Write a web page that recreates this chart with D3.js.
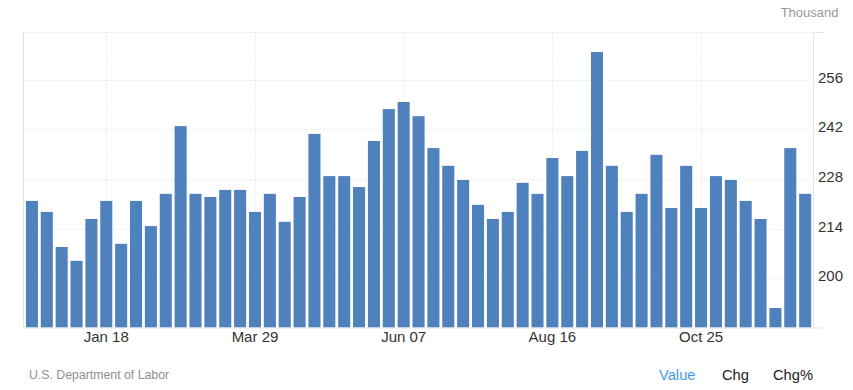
<!DOCTYPE html>
<html>
<head>
<meta charset="utf-8">
<script src="https://cdn.jsdelivr.net/npm/d3@7"></script>
<style>
  body { margin: 0; background: #fff; }
  text { font-family: Arial, "Liberation Sans", sans-serif; }
</style>
</head>
<body>
<div id="chart"></div>
<script>
// week ending dates, Dec 2024 - Dec 2025
var weeks = ["Dec 14","Dec 21","Dec 28","Jan 04","Jan 11","Jan 18","Jan 25","Feb 01","Feb 08","Feb 15",
    "Feb 22","Mar 01","Mar 08","Mar 15","Mar 22","Mar 29","Apr 05","Apr 12","Apr 19","Apr 26",
    "May 03","May 10","May 17","May 24","May 31","Jun 07","Jun 14","Jun 21","Jun 28","Jul 05",
    "Jul 12","Jul 19","Jul 26","Aug 02","Aug 09","Aug 16","Aug 23","Aug 30","Sep 06","Sep 13",
    "Sep 20","Sep 27","Oct 04","Oct 11","Oct 18","Oct 25","Nov 01","Nov 08","Nov 15","Nov 22",
    "Nov 29","Dec 06","Dec 13"];

// claims, thousand
var claims = [221.8,218.7,208.8,204.9,216.7,221.8,209.7,221.8,214.7,223.8,
    242.9,223.8,222.9,224.9,224.9,218.7,223.8,215.9,222.9,240.7,
    228.8,228.8,225.7,238.7,247.7,249.7,245.7,236.7,231.7,227.7,
    220.7,216.7,218.7,226.9,223.8,233.9,228.8,235.9,263.8,231.7,
    218.7,223.8,234.8,219.8,231.7,219.8,228.8,227.7,221.8,216.7,
    191.6,236.7,223.8];

var xTicks = ["Jan 18","Mar 29","Jun 07","Aug 16","Oct 25"];
var yTicks = [200, 214, 228, 242, 256];
var footerTabs = ["Value", "Chg", "Chg%"];

var width = 853, height = 390;
// plot frame (don't use "top", it's window.top)
var plotL = 23.5, plotR = 813.5, plotT = 32.5, plotB = 327.5;

var svg = d3.select("#chart").append("svg")
    .attr("width", width)
    .attr("height", height);

var x = d3.scaleBand()
    .domain(weeks)
    .range([24.5, 812.6])
    .paddingInner(0.19)
    .paddingOuter(0.095);

var y = d3.scaleLinear()
    .domain([186.1, 269.3])
    .range([plotB, plotT]);

// horizontal grid
svg.selectAll(".hgrid")
    .data(yTicks)
    .enter()
    .append("line")
    .attr("class", "hgrid")
    .attr("x1", plotL).attr("x2", plotR)
    .attr("y1", function(d){ return Math.round(y(d)) + 0.5; })
    .attr("y2", function(d){ return Math.round(y(d)) + 0.5; })
    .attr("stroke", "#dedede")
    .attr("stroke-dasharray", "1,2");

// top grid line
svg.append("line")
    .attr("x1", plotL).attr("x2", plotR)
    .attr("y1", plotT).attr("y2", plotT)
    .attr("stroke", "#dedede")
    .attr("stroke-dasharray", "1,2");
svg.append("line")
    .attr("x1", plotR).attr("x2", 823)
    .attr("y1", plotT).attr("y2", plotT)
    .attr("stroke", "#e3e3e3");

// vertical grid
svg.selectAll(".vgrid")
    .data(xTicks)
    .enter()
    .append("line")
    .attr("class", "vgrid")
    .attr("x1", function(d){ return Math.round(x(d) + x.bandwidth() / 2) + 0.5; })
    .attr("x2", function(d){ return Math.round(x(d) + x.bandwidth() / 2) + 0.5; })
    .attr("y1", plotT).attr("y2", plotB)
    .attr("stroke", "#dedede")
    .attr("stroke-dasharray", "1,2");

// bars
svg.selectAll(".bar")
    .data(claims)
    .enter()
    .append("rect")
    .attr("class", "bar")
    .attr("x", function(d, i){ return x(weeks[i]); })
    .attr("width", x.bandwidth())
    .attr("y", function(d){ return y(d); })
    .attr("height", function(d){ return plotB - y(d); })
    .attr("fill", "#4f81bd");

// axis lines
svg.append("line")
    .attr("x1", plotL).attr("x2", plotL)
    .attr("y1", plotT).attr("y2", plotB)
    .attr("stroke", "#e3e3e3");
svg.append("line")
    .attr("x1", plotR).attr("x2", plotR)
    .attr("y1", plotT).attr("y2", plotB)
    .attr("stroke", "#e3e3e3");
svg.append("line")
    .attr("x1", plotL).attr("x2", 823)
    .attr("y1", plotB + 0.5).attr("y2", plotB + 0.5)
    .attr("stroke", "#e3e3e3");

// y labels (right side)
svg.selectAll(".ylab")
    .data(yTicks)
    .enter()
    .append("text")
    .attr("class", "ylab")
    .attr("x", 818)
    .attr("y", function(d){ return y(d) + 3; })
    .attr("font-size", "15px")
    .attr("fill", "#333")
    .text(function(d){ return d; });

// x labels
svg.selectAll(".xlab")
    .data(xTicks)
    .enter()
    .append("text")
    .attr("class", "xlab")
    .attr("x", function(d){ return x(d) + x.bandwidth() / 2; })
    .attr("y", 341.5)
    .attr("text-anchor", "middle")
    .attr("font-size", "15px")
    .attr("fill", "#333")
    .text(function(d){ return d; });

svg.append("text")
    .attr("x", 838.5)
    .attr("y", 17)
    .attr("text-anchor", "end")
    .attr("font-size", "13px")
    .attr("fill", "#999")
    .text("Thousand");

svg.append("text")
    .attr("x", 29)
    .attr("y", 378.5)
    .attr("font-size", "12.3px")
    .attr("fill", "#8f8f8f")
    .text("U.S. Department of Labor");

// footer tabs
var tabX = [659, 722, 773];
svg.selectAll(".tab")
    .data(footerTabs)
    .enter()
    .append("text")
    .attr("class", "tab")
    .attr("x", function(d, i){ return tabX[i]; })
    .attr("y", 380)
    .attr("font-size", "14.7px")
    .attr("fill", function(d, i){ return i === 0 ? "#3d9cf0" : "#222"; })
    .text(function(d){ return d; });
</script>
</body>
</html>
